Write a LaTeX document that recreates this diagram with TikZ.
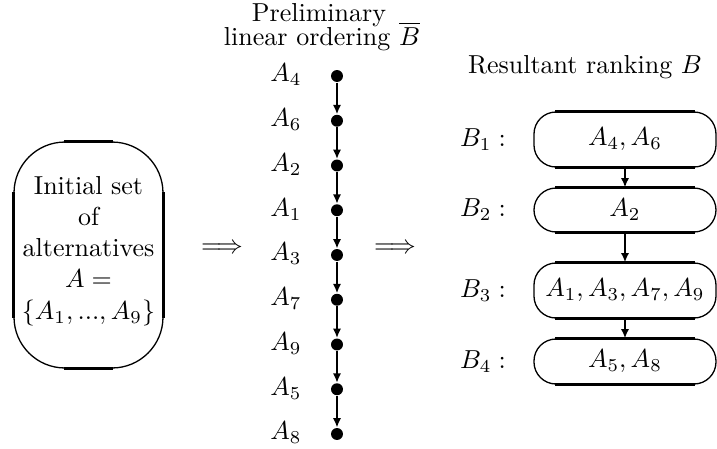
\documentclass[tikz,border=0pt]{standalone}
\usetikzlibrary{arrows.meta,calc}
\begin{document}
\begin{tikzpicture}[x=0.3846pt,y=-0.3846pt,
  dot/.style={circle,fill,inner sep=0pt,minimum size=4.6pt},
  lab/.style={inner sep=0pt},
  chainarrow/.style={line width=0.85pt,-{Latex[length=3.6pt,width=3.2pt]}},
  rbox/.style={draw,line width=0.5pt,rounded corners=8.46pt,minimum width=70pt,inner sep=0pt},
  flat/.style={line width=0.9pt}]
\useasboundingbox (0,0) rectangle (717,448);
% titles
\node[lab,anchor=base] (t1) at (319,21) {Preliminary};
\node[lab,anchor=base] (t2) at (322,45) {linear ordering $\overline{B}$};
\node[lab,anchor=base] (t3) at (585,73) {Resultant ranking $B$};
% initial set box
\node[draw,line width=0.5pt,rounded corners=19.6pt,minimum width=57.3pt,minimum height=86.9pt,inner sep=0pt] (init) at (88.5,255) {};
\draw[flat] ($(init.north west)+(51,0)$) -- ($(init.north east)+(-51,0)$);
\draw[flat] ($(init.south west)+(51,0)$) -- ($(init.south east)+(-51,0)$);
\draw[flat] ($(init.north west)+(0,51)$) -- ($(init.south west)+(0,-51)$);
\draw[flat] ($(init.north east)+(0,51)$) -- ($(init.south east)+(0,-51)$);
\node[align=center,inner sep=0pt] (inittxt) at (88.5,251) {Initial set\\of\\alternatives\\$A=$\\$\{A_1,...,A_9\}$};
% implication arrows
\node[lab] (imp1) at (222,249) {$\Longrightarrow$};
\node[lab] (imp2) at (395,249) {$\Longrightarrow$};
% chain
\foreach \lab [count=\i] in {4,6,2,1,3,7,9,5,8} {
  \node[dot] (d\i) at (337,{76+44.75*(\i-1)}) {};
  \node[lab] (l\i) at (286,{75+44.75*(\i-1)}) {$A_{\lab}$};
}
\foreach \i in {1,...,8} {
  \pgfmathtruncatemacro{\j}{\i+1}
  \draw[chainarrow] (d\i) -- (d\j);
}
% ranking boxes
\node[rbox,minimum height=21.15pt] (b1) at (625,139.5) {$A_4,A_6$};
\node[rbox,minimum height=16.9pt] (b2) at (625,210) {$A_2$};
\node[rbox,minimum height=21.15pt] (b3) at (625,290.5) {$A_1,A_3,A_7,A_9$};
\node[rbox,minimum height=17.3pt] (b4) at (625,361.5) {$A_5,A_8$};
\foreach \b in {b1,b2,b3,b4} {
  \draw[flat] ($(\b.north west)+(22,0)$) -- ($(\b.north east)+(-22,0)$);
  \draw[flat] ($(\b.south west)+(22,0)$) -- ($(\b.south east)+(-22,0)$);
}
\draw[chainarrow] (b1) -- (b2);
\draw[chainarrow] (b2) -- (b3);
\draw[chainarrow] (b3) -- (b4);
\node[lab] (lb1) at (483,139.5) {$B_1:$};
\node[lab] (lb2) at (483,210) {$B_2:$};
\node[lab] (lb3) at (483,290.5) {$B_3:$};
\node[lab] (lb4) at (483,361.5) {$B_4:$};
\end{tikzpicture}
\end{document}
